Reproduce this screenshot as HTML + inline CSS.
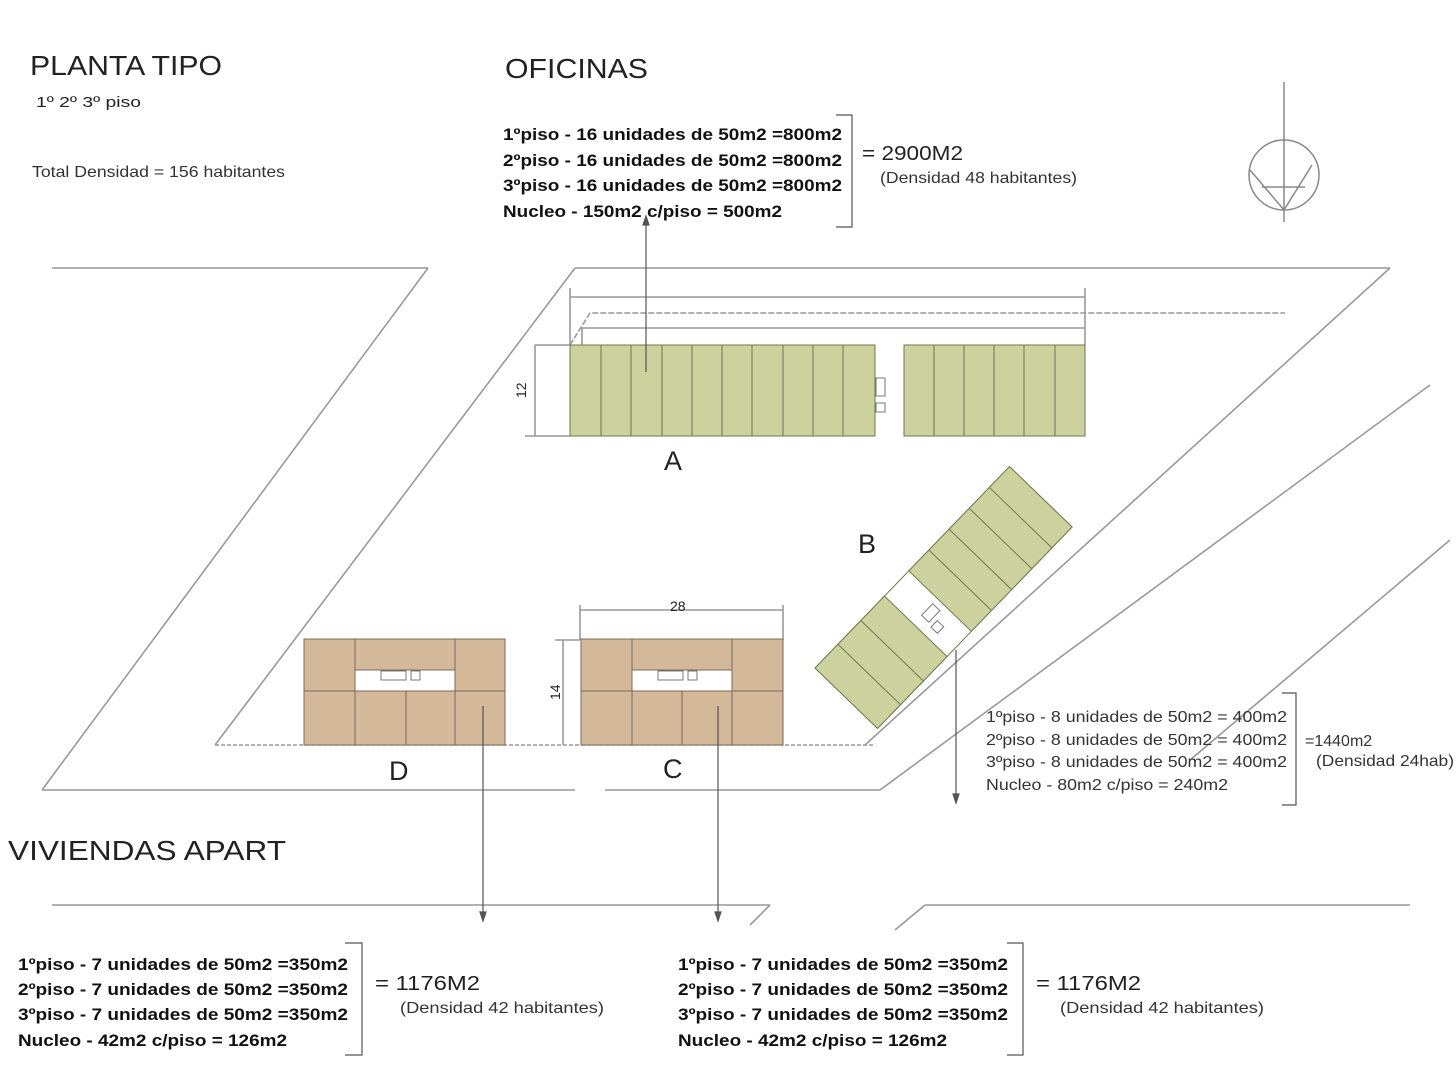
<!DOCTYPE html>
<html><head><meta charset="utf-8"><style>
body{margin:0;background:#fff}
svg{display:block}
text{font-family:"Liberation Sans",Arial,sans-serif;fill:#222}
.b{font-weight:bold;font-size:17px;fill:#111}
.s{font-size:16px;fill:#333}
</style></head><body>
<svg width="1456" height="1080" viewBox="0 0 1456 1080" xmlns="http://www.w3.org/2000/svg">
<g stroke="#999" stroke-width="1.6" fill="none">
<line x1="52" y1="268" x2="428" y2="268"/>
<line x1="428" y1="268" x2="42" y2="790"/>
<line x1="42" y1="790" x2="575" y2="790"/>
<line x1="575" y1="268" x2="1390" y2="268"/>
<line x1="575" y1="268" x2="215" y2="745"/>
<line x1="1390" y1="268" x2="865" y2="745"/>
<line x1="1430" y1="385" x2="880" y2="790"/>
<line x1="605" y1="790" x2="880" y2="790"/>
<line x1="1450" y1="540" x2="1190" y2="760"/>
<line x1="52" y1="905" x2="770" y2="905"/>
<line x1="770" y1="905" x2="750" y2="925"/>
<line x1="925" y1="905" x2="1410" y2="905"/>
<line x1="925" y1="905" x2="895" y2="930"/>
<line x1="215" y1="745" x2="875" y2="745" stroke-dasharray="4,2"/>
<polyline points="570,345 590,313 1285,313" stroke-dasharray="6,2"/>
<polyline points="582,345 582,328 1085,328"/>
<line x1="570" y1="297" x2="1085" y2="297"/>
<line x1="570" y1="288" x2="570" y2="345"/>
<line x1="1085" y1="288" x2="1085" y2="345"/>
<line x1="535" y1="345" x2="570" y2="345"/>
<line x1="525" y1="436" x2="570" y2="436"/>
<line x1="535" y1="345" x2="535" y2="436"/>
<line x1="580" y1="610" x2="783" y2="610"/>
<line x1="580" y1="605" x2="580" y2="640"/>
<line x1="783" y1="605" x2="783" y2="640"/>
<line x1="555" y1="640" x2="580" y2="640"/>
<line x1="563" y1="640" x2="563" y2="745"/>
</g>
<!-- compass -->
<g stroke="#888" stroke-width="1.5" fill="none">
<line x1="1284" y1="82" x2="1284" y2="222"/>
<circle cx="1284" cy="175" r="35"/>
<line x1="1250" y1="170" x2="1284" y2="210"/>
<line x1="1312" y1="165" x2="1284" y2="210"/>
<line x1="1262" y1="187" x2="1305" y2="187"/>
</g>
<!-- Block A -->
<g stroke="#6f7850" stroke-width="1" fill="#cdd19e">
<rect x="570" y="345" width="305" height="91"/>
<rect x="904" y="345" width="181" height="91"/>
</g>
<g stroke="#6f7850" stroke-width="1">
<line x1="601" y1="345" x2="601" y2="436"/><line x1="631" y1="345" x2="631" y2="436"/><line x1="662" y1="345" x2="662" y2="436"/><line x1="692" y1="345" x2="692" y2="436"/><line x1="722" y1="345" x2="722" y2="436"/><line x1="752" y1="345" x2="752" y2="436"/><line x1="783" y1="345" x2="783" y2="436"/><line x1="813" y1="345" x2="813" y2="436"/><line x1="843" y1="345" x2="843" y2="436"/>
<line x1="934" y1="345" x2="934" y2="436"/><line x1="964" y1="345" x2="964" y2="436"/><line x1="994" y1="345" x2="994" y2="436"/><line x1="1024" y1="345" x2="1024" y2="436"/><line x1="1055" y1="345" x2="1055" y2="436"/>
</g>
<rect x="876" y="378" width="9" height="18" fill="none" stroke="#777"/>
<rect x="876" y="403" width="9" height="9" fill="none" stroke="#777"/>
<!-- Block B -->
<g transform="translate(815,668) rotate(-46)" stroke="#6f7850" stroke-width="1">
<rect x="0" y="0" width="280" height="87" fill="#fff"/>
<rect x="0" y="0" width="100" height="87" fill="#cdd19e"/>
<rect x="135" y="0" width="145" height="87" fill="#cdd19e"/>
<line x1="33" y1="0" x2="33" y2="87"/><line x1="66" y1="0" x2="66" y2="87"/>
<line x1="164" y1="0" x2="164" y2="87"/><line x1="193" y1="0" x2="193" y2="87"/><line x1="222" y1="0" x2="222" y2="87"/><line x1="251" y1="0" x2="251" y2="87"/>
<rect x="112" y="40" width="16" height="10" fill="none" stroke="#777"/>
<rect x="110" y="55" width="9" height="9" fill="none" stroke="#777"/>
</g>
<!-- Block D -->
<g stroke="#7a6a55" stroke-width="1" fill="#d4b89a">
<rect x="304" y="639" width="201" height="106"/>
</g>
<rect x="355" y="670" width="100" height="21" fill="#fff"/>
<g stroke="#7a6a55" stroke-width="1">
<line x1="355" y1="639" x2="355" y2="745"/><line x1="455" y1="639" x2="455" y2="745"/><line x1="406" y1="691" x2="406" y2="745"/>
<line x1="304" y1="691" x2="505" y2="691"/><line x1="355" y1="670" x2="455" y2="670"/>
</g>
<rect x="381" y="671" width="25" height="9" fill="none" stroke="#777"/><rect x="411" y="671" width="9" height="9" fill="none" stroke="#777"/>
<!-- Block C -->
<g stroke="#7a6a55" stroke-width="1" fill="#d4b89a">
<rect x="581" y="639" width="202" height="106"/>
</g>
<rect x="632" y="670" width="100" height="21" fill="#fff"/>
<g stroke="#7a6a55" stroke-width="1">
<line x1="632" y1="639" x2="632" y2="745"/><line x1="732" y1="639" x2="732" y2="745"/><line x1="682" y1="691" x2="682" y2="745"/>
<line x1="581" y1="691" x2="783" y2="691"/><line x1="632" y1="670" x2="732" y2="670"/>
</g>
<rect x="658" y="671" width="25" height="9" fill="none" stroke="#777"/><rect x="688" y="671" width="9" height="9" fill="none" stroke="#777"/>
<!-- leader arrows -->
<g stroke="#555" stroke-width="1.2" fill="#555">
<line x1="646" y1="372" x2="646" y2="222"/><path d="M646,216 l-3,9 h6z"/>
<line x1="483" y1="706" x2="483" y2="915"/><path d="M483,921 l-3,-9 h6z"/>
<line x1="718" y1="706" x2="718" y2="915"/><path d="M718,921 l-3,-9 h6z"/>
<line x1="956" y1="650" x2="956" y2="797"/><path d="M956,803 l-3,-9 h6z"/>
</g>
<!-- brackets -->
<g stroke="#555" stroke-width="1.2" fill="none">
<polyline points="836,115 852,115 852,227 836,227"/>
<polyline points="1282,693 1296,693 1296,805 1282,805"/>
<polyline points="345,943 362,943 362,1055 345,1055"/>
<polyline points="1007,943 1023,943 1023,1055 1007,1055"/>
</g>
<!-- text -->
<text x="30" y="75" font-size="28" textLength="192" lengthAdjust="spacingAndGlyphs">PLANTA TIPO</text>
<text x="36" y="107" font-size="15" textLength="105" lengthAdjust="spacingAndGlyphs">1º  2º  3º piso</text>
<text x="32" y="177" class="s" textLength="253" lengthAdjust="spacingAndGlyphs">Total Densidad = 156 habitantes</text>
<text x="505" y="78" font-size="28" textLength="143" lengthAdjust="spacingAndGlyphs">OFICINAS</text>
<text x="503" y="140" class="b" textLength="339" lengthAdjust="spacingAndGlyphs">1ºpiso - 16 unidades de 50m2 =800m2</text>
<text x="503" y="166" class="b" textLength="339" lengthAdjust="spacingAndGlyphs">2ºpiso - 16 unidades de 50m2 =800m2</text>
<text x="503" y="191" class="b" textLength="339" lengthAdjust="spacingAndGlyphs">3ºpiso - 16 unidades de 50m2 =800m2</text>
<text x="503" y="217" class="b" textLength="279" lengthAdjust="spacingAndGlyphs">Nucleo - 150m2 c/piso = 500m2</text>
<text x="862" y="160" font-size="20" textLength="101" lengthAdjust="spacingAndGlyphs">= 2900M2</text>
<text x="880" y="183" class="s" textLength="197" lengthAdjust="spacingAndGlyphs">(Densidad 48 habitantes)</text>
<text x="664" y="470" font-size="27">A</text>
<text x="858" y="553" font-size="27">B</text>
<text x="389" y="780" font-size="27">D</text>
<text x="663" y="778" font-size="27">C</text>
<text x="526" y="398" font-size="14" fill="#555" transform="rotate(-90 526 398)">12</text>
<text x="670" y="611" font-size="14" fill="#555">28</text>
<text x="560" y="700" font-size="14" fill="#555" transform="rotate(-90 560 700)">14</text>
<text x="8" y="860" font-size="28" textLength="278" lengthAdjust="spacingAndGlyphs">VIVIENDAS  APART</text>
<text x="986" y="722" class="s" textLength="301" lengthAdjust="spacingAndGlyphs">1ºpiso - 8 unidades de 50m2 = 400m2</text>
<text x="986" y="745" class="s" textLength="301" lengthAdjust="spacingAndGlyphs">2ºpiso - 8 unidades de 50m2 = 400m2</text>
<text x="986" y="767" class="s" textLength="301" lengthAdjust="spacingAndGlyphs">3ºpiso - 8 unidades de 50m2 = 400m2</text>
<text x="986" y="790" class="s" textLength="242" lengthAdjust="spacingAndGlyphs">Nucleo - 80m2 c/piso = 240m2</text>
<text x="1305" y="746" class="s">=1440m2</text>
<text x="1316" y="766" class="s" textLength="138" lengthAdjust="spacingAndGlyphs">(Densidad 24hab)</text>
<text x="18" y="970" class="b" textLength="330" lengthAdjust="spacingAndGlyphs">1ºpiso - 7 unidades de 50m2 =350m2</text>
<text x="18" y="995" class="b" textLength="330" lengthAdjust="spacingAndGlyphs">2ºpiso - 7 unidades de 50m2 =350m2</text>
<text x="18" y="1020" class="b" textLength="330" lengthAdjust="spacingAndGlyphs">3ºpiso - 7 unidades de 50m2 =350m2</text>
<text x="18" y="1046" class="b" textLength="269" lengthAdjust="spacingAndGlyphs">Nucleo - 42m2 c/piso = 126m2</text>
<text x="375" y="990" font-size="20" textLength="105" lengthAdjust="spacingAndGlyphs">=  1176M2</text>
<text x="400" y="1013" class="s" textLength="204" lengthAdjust="spacingAndGlyphs">(Densidad  42 habitantes)</text>
<text x="678" y="970" class="b" textLength="330" lengthAdjust="spacingAndGlyphs">1ºpiso - 7 unidades de 50m2 =350m2</text>
<text x="678" y="995" class="b" textLength="330" lengthAdjust="spacingAndGlyphs">2ºpiso - 7 unidades de 50m2 =350m2</text>
<text x="678" y="1020" class="b" textLength="330" lengthAdjust="spacingAndGlyphs">3ºpiso - 7 unidades de 50m2 =350m2</text>
<text x="678" y="1046" class="b" textLength="269" lengthAdjust="spacingAndGlyphs">Nucleo - 42m2 c/piso = 126m2</text>
<text x="1036" y="990" font-size="20" textLength="105" lengthAdjust="spacingAndGlyphs">=  1176M2</text>
<text x="1060" y="1013" class="s" textLength="204" lengthAdjust="spacingAndGlyphs">(Densidad  42 habitantes)</text>
</svg>
</body></html>
